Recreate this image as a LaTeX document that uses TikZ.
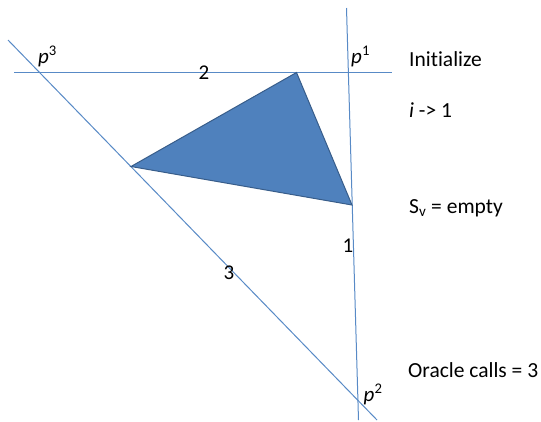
\documentclass[tikz,border=0pt]{standalone}
\usepackage{fontspec}
\setmainfont[Ligatures=NoCommon]{Carlito}
\definecolor{lineblue}{RGB}{88,138,198}
\definecolor{trifill}{RGB}{79,129,189}
\definecolor{triedge}{RGB}{56,93,138}
\tikzset{
  cut/.style={draw=lineblue, line width=1pt},
  tri/.style={fill=trifill, draw=triedge, line width=1pt, line join=miter},
  lbl/.style={font=\fontsize{21}{25}\selectfont, inner sep=0pt},
  ptl/.style={font=\fontsize{21}{25}\selectfont, inner sep=0pt, anchor=base west},
  txt/.style={font=\fontsize{21.5}{26}\selectfont, inner sep=0pt, anchor=base west}
}
\begin{document}
\begin{tikzpicture}[x=1pt,y=-1pt]
\useasboundingbox (0,0) rectangle (541,421);
% cutting lines
\coordinate (h1) at (14,72);
\coordinate (h2) at (392,72);
\coordinate (v1) at (346.5,8);
\coordinate (v2) at (358.5,420);
\coordinate (d1) at (8,40);
\coordinate (d2) at (377,420);
\draw[cut] (h1) -- (h2);
\draw[cut] (v1) -- (v2);
\draw[cut] (d1) -- (d2);
% triangle
\coordinate (tA) at (296.5,72.5);
\coordinate (tB) at (131,166.5);
\coordinate (tC) at (352,205);
\filldraw[tri] (tA) -- (tB) -- (tC) -- cycle;
% line labels
\node[lbl] (l2) at (204,73) {2};
\node[lbl] (l1) at (348,246) {1};
\node[lbl] (l3) at (229,272.5) {3};
% point labels
\node[ptl] (p3) at (38,63) {\textit{p}\textsuperscript{3}};
\node[ptl] (p1) at (351,63) {\textit{p}\textsuperscript{1}};
\node[ptl] (p2) at (363.5,401.5) {\textit{p}\textsuperscript{2}};
% side texts
\node[txt] (t1) at (409,66) {Initialize};
\node[txt] (t2) at (409,117.5) {\textit{i} -> 1};
\node[txt] (t3) at (409,213) {S\textsubscript{v} = empty};
\node[txt] (t4) at (408,377.5) {Oracle calls = 3};
\end{tikzpicture}
\end{document}
